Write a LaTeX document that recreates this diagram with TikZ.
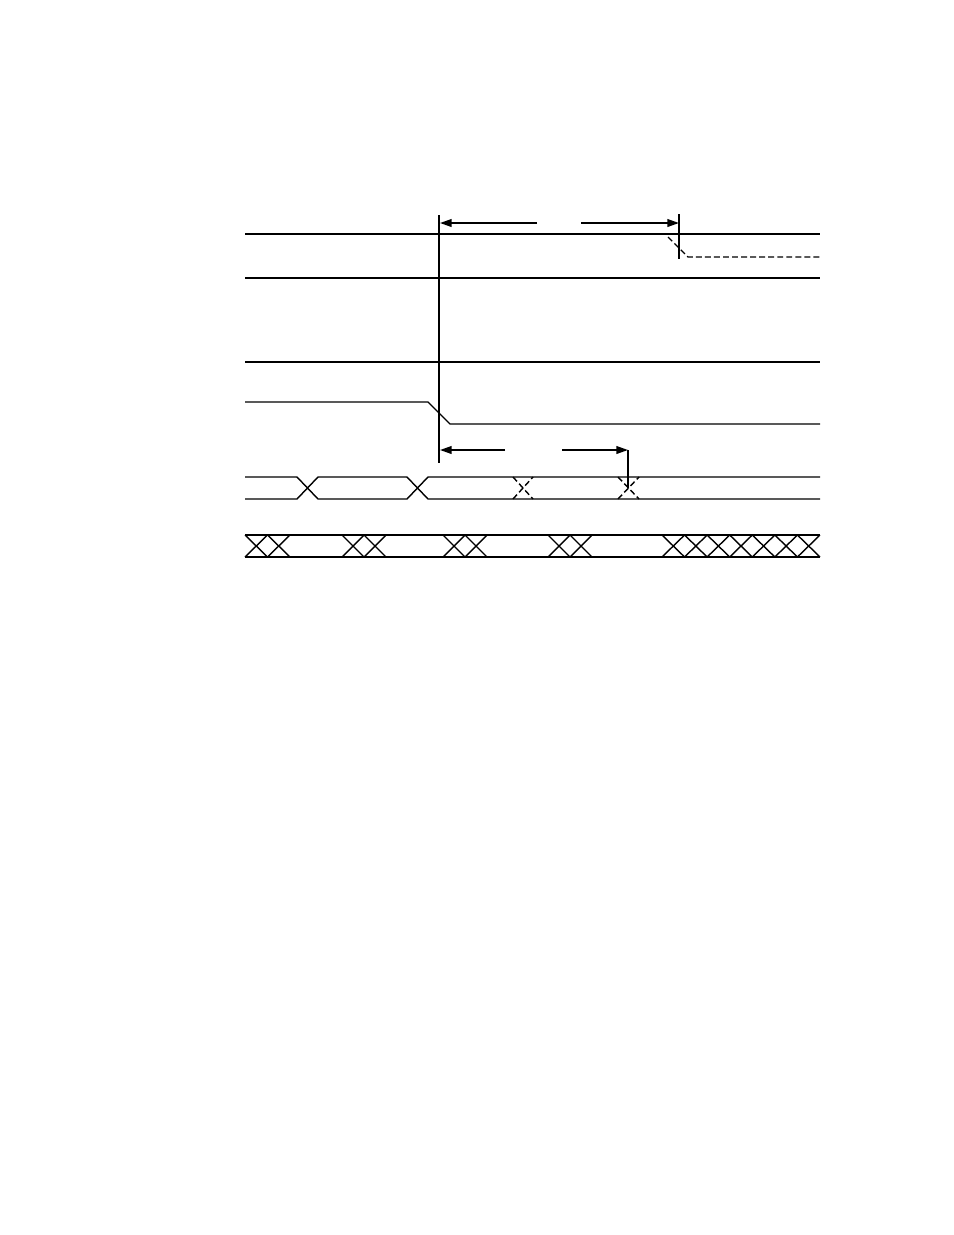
\documentclass[tikz,border=0pt]{standalone}
\usetikzlibrary{arrows.meta}
\begin{document}
\begin{tikzpicture}[x=0.6415pt,y=-0.6415pt,
  sig/.style={line width=0.9pt,line join=miter},
  dsig/.style={sig,dash pattern=on 3.8pt off 2pt},
  marker/.style={line width=0.9pt},
  dimarrow/.style={line width=1pt,-{Triangle[length=7.5pt,width=5pt]}}]
\useasboundingbox (0,0) rectangle (954,1235);
% markers
\coordinate (m1t) at (439,215); \coordinate (m1b) at (439,463);
\coordinate (m2t) at (679,214); \coordinate (m2b) at (679,259);
\coordinate (m3t) at (628,450); \coordinate (m3b) at (628,488);
\draw[marker] (m1t) -- (m1b);
\draw[marker] (m2t) -- (m2b);
\draw[marker] (m3t) -- (m3b);
% dimension arrows
\coordinate (a1s) at (537,223); \coordinate (a1e) at (440,223);
\coordinate (a2s) at (581,223); \coordinate (a2e) at (679,223);
\coordinate (a3s) at (505,450); \coordinate (a3e) at (440,450);
\coordinate (a4s) at (562,450); \coordinate (a4e) at (628,450);
\draw[dimarrow] (a1s) -- (a1e);
\draw[dimarrow] (a2s) -- (a2e);
\draw[dimarrow] (a3s) -- (a3e);
\draw[dimarrow] (a4s) -- (a4e);
% signal 1
\draw[sig] (245,234) -- (820,234);
\draw[dsig] (668,237) -- (688,257) -- (820,257);
% signal 2, 3
\draw[sig] (245,278) -- (820,278);
\draw[sig] (245,362) -- (820,362);
% signal 4 falling
\draw[sig] (245,402) -- (428,402) -- (450,424) -- (820,424);
% bus
\draw[sig] (245,477) -- (297,477) -- (318,499) -- (407,499) -- (428,477) -- (820,477);
\draw[sig] (245,499) -- (297,499) -- (318,477) -- (407,477) -- (428,499) -- (820,499);
\draw[dsig] (513,477) -- (533,499);
\draw[dsig] (513,499) -- (533,477);
\draw[dsig] (618,477) -- (639,499);
\draw[dsig] (618,499) -- (639,477);
% data row
\draw[sig] (245,535) -- (820,535);
\draw[sig] (245,557) -- (820,557);
\foreach \s/\n/\w in {245/2/22.5, 342/2/22, 443/2/22, 548/2/22, 662/7/22.57}{
  \foreach \i in {1,...,\n}{
    \draw[sig] ({\s+(\i-1)*\w},535) -- ({\s+\i*\w},557);
    \draw[sig] ({\s+(\i-1)*\w},557) -- ({\s+\i*\w},535);
  }
}
\end{tikzpicture}
\end{document}
